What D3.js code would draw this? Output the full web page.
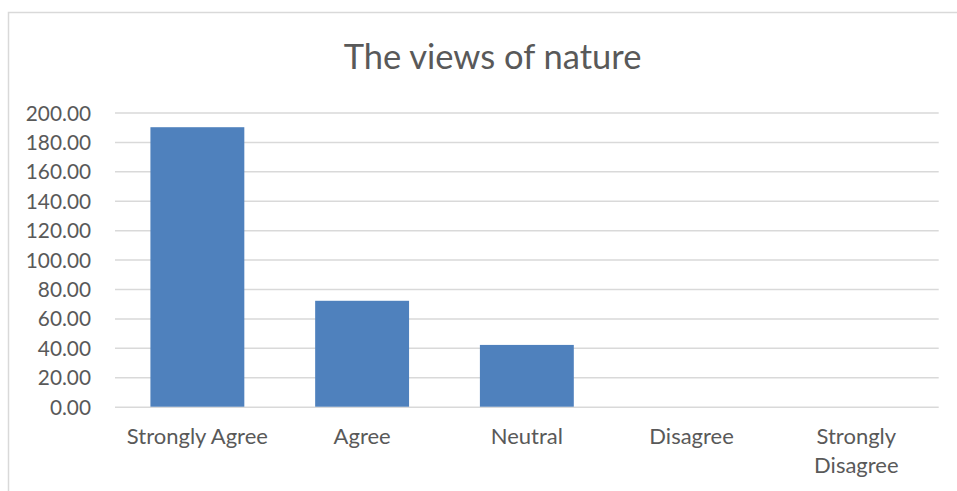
<!DOCTYPE html>
<html>
<head>
<meta charset="utf-8">
<script src="https://cdn.jsdelivr.net/npm/d3@7/dist/d3.min.js"></script>
<style>
  html, body { margin: 0; padding: 0; background: #fff; }
  svg { display: block; }
</style>
</head>
<body>
<svg id="chart" width="957" height="491"></svg>
<script>
// Survey responses: "The views of nature"
const categories = ["Strongly Agree", "Agree", "Neutral", "Disagree", "Strongly Disagree"];
const values = [190, 72, 42, 0, 0];
const yTicks = [0, 20, 40, 60, 80, 100, 120, 140, 160, 180, 200];
const title = "The views of nature";

const svg = d3.select("#chart");
const font = "Lato, 'Open Sans', sans-serif";
const textColor = "#595959";
const gridColor = "#d9d9d9";

// Chart frame
svg.append("rect")
  .attr("x", 8.5).attr("y", 12.5)
  .attr("width", 975).attr("height", 500)
  .attr("fill", "#fff")
  .attr("stroke", gridColor).attr("stroke-width", 1.5);

const plot = { left: 115, right: 938.7, top: 112.5, bottom: 406.7 };

const x = d3.scaleBand()
  .domain(categories)
  .range([plot.left, plot.right])
  .paddingInner(0.43)
  .paddingOuter(0.215);

const y = d3.scaleLinear()
  .domain([0, 200])
  .range([plot.bottom, plot.top]);

// Title
svg.append("text")
  .attr("x", 492.5).attr("y", 69)
  .attr("text-anchor", "middle")
  .attr("font-family", font)
  .attr("font-size", 34.5)
  .attr("fill", textColor)
  .text(title);

// Gridlines + y labels via axis
const yAxis = d3.axisLeft(y)
  .tickValues(yTicks)
  .tickSize(-(plot.right - plot.left))
  .tickPadding(24)
  .tickFormat(d3.format(".2f"));

const gy = svg.append("g")
  .attr("transform", `translate(${plot.left},0)`)
  .call(yAxis);
gy.select(".domain").remove();
gy.selectAll(".tick line")
  .attr("stroke", gridColor)
  .attr("stroke-width", 1.5);
gy.selectAll(".tick text")
  .attr("font-family", font)
  .attr("font-size", 20.8)
  .attr("fill", textColor)
  .attr("dy", "0.36em");

// Bars
svg.append("g")
  .selectAll("rect")
  .data(values)
  .join("rect")
  .attr("x", (d, i) => x(categories[i]))
  .attr("y", d => y(d))
  .attr("width", x.bandwidth())
  .attr("height", d => y(0) - y(d))
  .attr("fill", "#4f81bd");

// Category labels (the last one wraps onto two lines)
const xAxis = d3.axisBottom(x).tickSize(0).tickPadding(0);
const gx = svg.append("g")
  .attr("transform", `translate(0,${plot.bottom})`)
  .call(xAxis);
gx.select(".domain").remove();
gx.selectAll(".tick text")
  .attr("font-family", font)
  .attr("font-size", 22)
  .attr("fill", textColor)
  .attr("dy", null)
  .attr("y", 37.5)
  .each(function(d) {
    const t = d3.select(this);
    if (d === "Strongly Disagree") {
      t.text(null);
      d.split(" ").forEach((w, i) => {
        t.append("tspan").attr("x", 0).attr("dy", i === 0 ? 0 : 29).text(w);
      });
    }
  });
</script>
</body>
</html>
